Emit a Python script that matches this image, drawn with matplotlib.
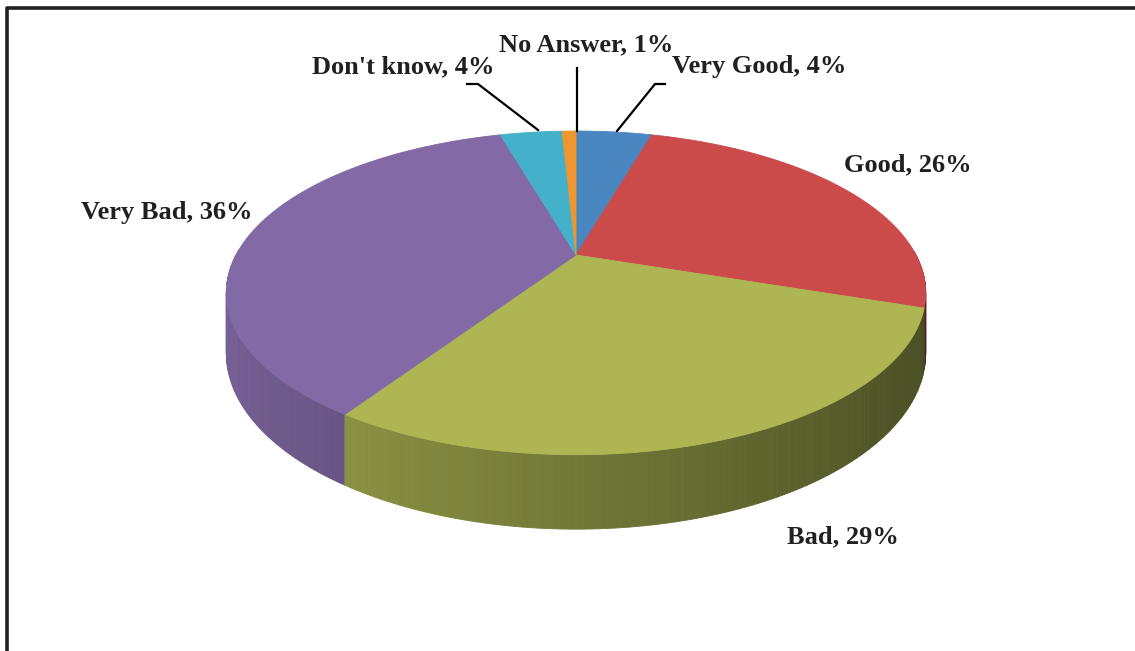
import numpy as np
import matplotlib
matplotlib.use('Agg')
import matplotlib.pyplot as plt
from matplotlib.patches import Polygon

# data (slice shares; labels show rounded values)
labels = ["Very Good", "Good", "Bad", "Very Bad", "Don't know", "No Answer"]
values = [4.4, 25.8, 29.0, 36.4, 3.6, 0.8]
colors = ["#4A86C0", "#CB4B4B", "#ADB653", "#836AA6", "#44B0C9", "#F0962E"]

# label positions (pixels)
label_pos = {
    "Very Good": (759, 67),
    "Good": (908, 165),
    "Bad": (843, 537),
    "Very Bad": (167, 212),
    "Don't know": (403, 67),
    "No Answer": (586, 45),
}

# projection of the 3d disk (perspective-ish)
CX, CY = 576, 255
A, B = 340, 153
K = 0.234
H = 57


def proj(x, y, z=0.0):
    w = 1 + K * y
    return CX + A * x / w, CY - B * y / w + H * z / w


def shade(rgb, x):
    f = 0.66 - 0.25 * x
    return tuple(np.clip(np.array(rgb) * f, 0, 1))


fig = plt.figure(figsize=(11.35, 6.51), dpi=100)
ax = fig.add_axes([0, 0, 1, 1])
ax.set_xlim(0, 1135)
ax.set_ylim(651, 0)
ax.axis('off')

fracs = np.array(values, dtype=float) / sum(values)
edges = np.concatenate([[0], np.cumsum(fracs)]) * 360.0

# side walls first
strips = []
for i, c in enumerate(colors):
    rgb = matplotlib.colors.to_rgb(c)
    a0, a1 = edges[i], edges[i + 1]
    n = max(2, int((a1 - a0) / 1.0))
    ts = np.linspace(a0, a1, n + 1)
    for t0, t1 in zip(ts[:-1], ts[1:]):
        r0, r1 = np.radians(t0), np.radians(t1)
        x0, y0 = np.sin(r0), np.cos(r0)
        x1, y1 = np.sin(r1), np.cos(r1)
        if y0 > 0.02 and y1 > 0.02:
            continue
        pts = [proj(x0, y0), proj(x1, y1), proj(x1, y1, 1), proj(x0, y0, 1)]
        col = shade(rgb, (x0 + x1) / 2)
        strips.append(((y0 + y1) / 2, pts, col))

strips.sort(key=lambda s: -s[0])
for _, pts, col in strips:
    ax.add_patch(Polygon(pts, closed=True, facecolor=col, edgecolor=col, lw=0.6))

# top face
for i, c in enumerate(colors):
    ts = np.radians(np.linspace(edges[i], edges[i + 1], 80))
    pts = [proj(0, 0)] + [proj(np.sin(t), np.cos(t)) for t in ts]
    ax.add_patch(Polygon(pts, closed=True, facecolor=c, edgecolor=c, lw=0.6))

# labels
for lab, v in zip(labels, values):
    px, py = label_pos[lab]
    ax.text(px, py, f"{lab}, {v:.0f}%", ha='center', va='center',
            fontsize=19, fontweight='bold', family='Liberation Serif', color='#231F20')

# leader lines
ax.plot([577, 577], [68, 131], color='black', lw=1.6)
ax.plot([467, 478, 538], [84, 84, 130], color='black', lw=1.6)
ax.plot([665, 655, 617], [84, 84, 131], color='black', lw=1.6)

# frame
ax.plot([6.5, 6.5, 1140], [660, 7.5, 7.5], color='#231F20', lw=2.6)

fig.savefig('out.png', dpi=100)
